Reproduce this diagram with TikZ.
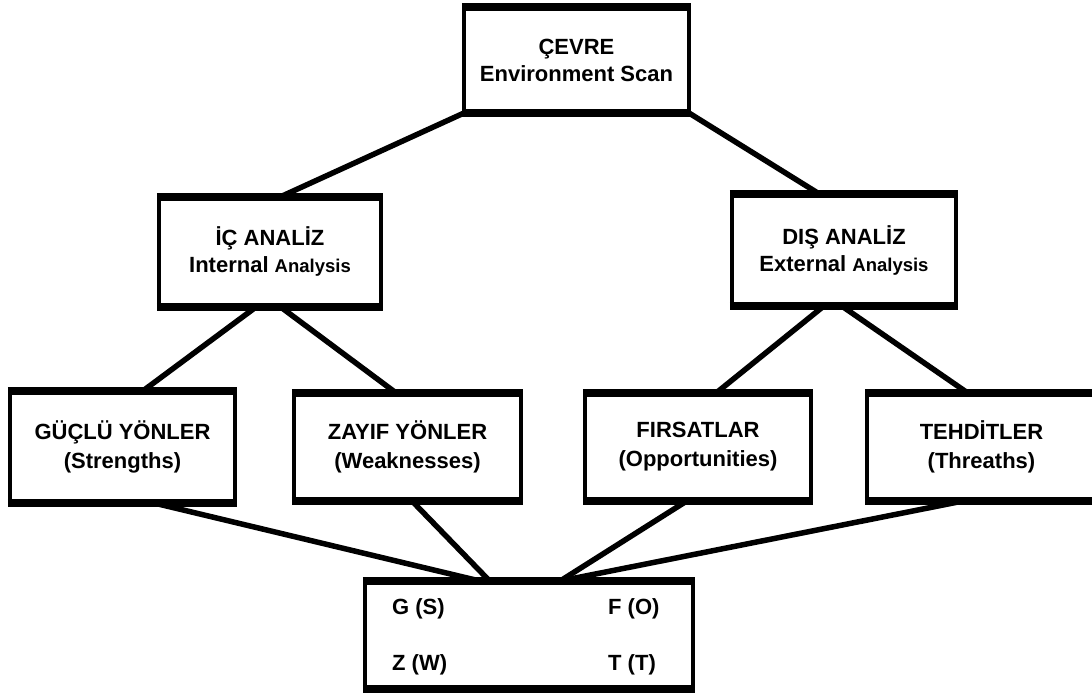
\documentclass[tikz,border=0pt]{standalone}
\usepackage{fontspec}
\setmainfont{Liberation Sans}
\usetikzlibrary{calc}
\pgfdeclarelayer{bg}
\pgfsetlayers{bg,main}

\tikzset{
  box/.style={draw, fill=white, line width=4.5pt, outer sep=0pt, inner sep=0pt,
    align=center, font=\bfseries\fontsize{22}{27}\selectfont},
  link/.style={line width=5.5pt},
  rim/.style={line width=8pt},
  cell/.style={anchor=west, inner sep=0pt, font=\bfseries\fontsize{22}{26}\selectfont}
}
\newcommand\smallword[1]{{\fontsize{18.5}{27}\selectfont #1}}
% heavier top and bottom edges of a box
\newcommand\boxrims[1]{%
  \draw[rim] ([xshift=-2.25pt]#1.north west) -- ([xshift=2.25pt]#1.north east);
  \draw[rim] ([xshift=-2.25pt]#1.south west) -- ([xshift=2.25pt]#1.south east);}

\begin{document}
\begin{tikzpicture}[x=1pt,y=-1pt]
\useasboundingbox (0,0) rectangle (1092,697);

% boxes
\node[box, minimum width=225pt, minimum height=106pt] (scan) at (576.5,60) {ÇEVRE\\Environment Scan};
\node[box, minimum width=222pt, minimum height=110pt] (int) at (270,251.5) {İÇ ANALİZ\\Internal \smallword{Analysis}};
\node[box, minimum width=224pt, minimum height=112pt] (ext) at (844,250) {DIŞ ANALİZ\\External \smallword{Analysis}};

\node[box, minimum width=225pt, minimum height=112pt, font=\bfseries\fontsize{22}{29}\selectfont] (str) at (122.5,447) {GÜÇLÜ YÖNLER\\(Strengths)};
\node[box, minimum width=227pt, minimum height=108pt, font=\bfseries\fontsize{22}{29}\selectfont] (weak) at (407.5,447) {ZAYIF YÖNLER\\(Weaknesses)};
\node[box, minimum width=226pt, minimum height=108pt, font=\bfseries\fontsize{22}{29}\selectfont] (opp) at (698,447) {FIRSATLAR\\(Opportunities)};
\node[box, minimum width=229pt, minimum height=108pt, font=\bfseries\fontsize{22}{29}\selectfont] (thr) at (981.5,447) {TEHDİTLER\\(Threaths)};

\node[box, minimum width=328pt, minimum height=108pt] (swot) at (529,635) {};
\node[cell] (gs) at (392,609) {G (S)};
\node[cell] (fo) at (608,609) {F (O)};
\node[cell] (zw) at (392,665) {Z (W)};
\node[cell] (tt) at (608,665) {T (T)};

\foreach \b in {scan,int,ext,str,weak,opp,thr,swot} {\boxrims{\b}}

% connectors
\begin{pgfonlayer}{bg}
\draw[link] (scan.south west) -- ($(int.north west)!0.55!(int.north east)$);
\draw[link] (scan.south east) -- ($(ext.north west)!0.39!(ext.north east)$);

\draw[link] ($(int.south west)!0.44!(int.south east)$) -- ($(str.north west)!0.59!(str.north east)$);
\draw[link] ($(int.south west)!0.545!(int.south east)$) -- ($(weak.north west)!0.45!(weak.north east)$);
\draw[link] ($(ext.south west)!0.41!(ext.south east)$) -- ($(opp.north west)!0.58!(opp.north east)$);
\draw[link] ($(ext.south west)!0.49!(ext.south east)$) -- ($(thr.north west)!0.44!(thr.north east)$);

\draw[link] ($(str.south west)!0.64!(str.south east)$) -- ($(swot.north west)!0.35!(swot.north east)$);
\draw[link] ($(weak.south west)!0.52!(weak.south east)$) -- ($(swot.north west)!0.38!(swot.north east)$);
\draw[link] ($(opp.south west)!0.45!(opp.south east)$) -- ($(swot.north west)!0.595!(swot.north east)$);
\draw[link] ($(thr.south west)!0.42!(thr.south east)$) -- ($(swot.north west)!0.595!(swot.north east)$);
\end{pgfonlayer}
\end{tikzpicture}
\end{document}
